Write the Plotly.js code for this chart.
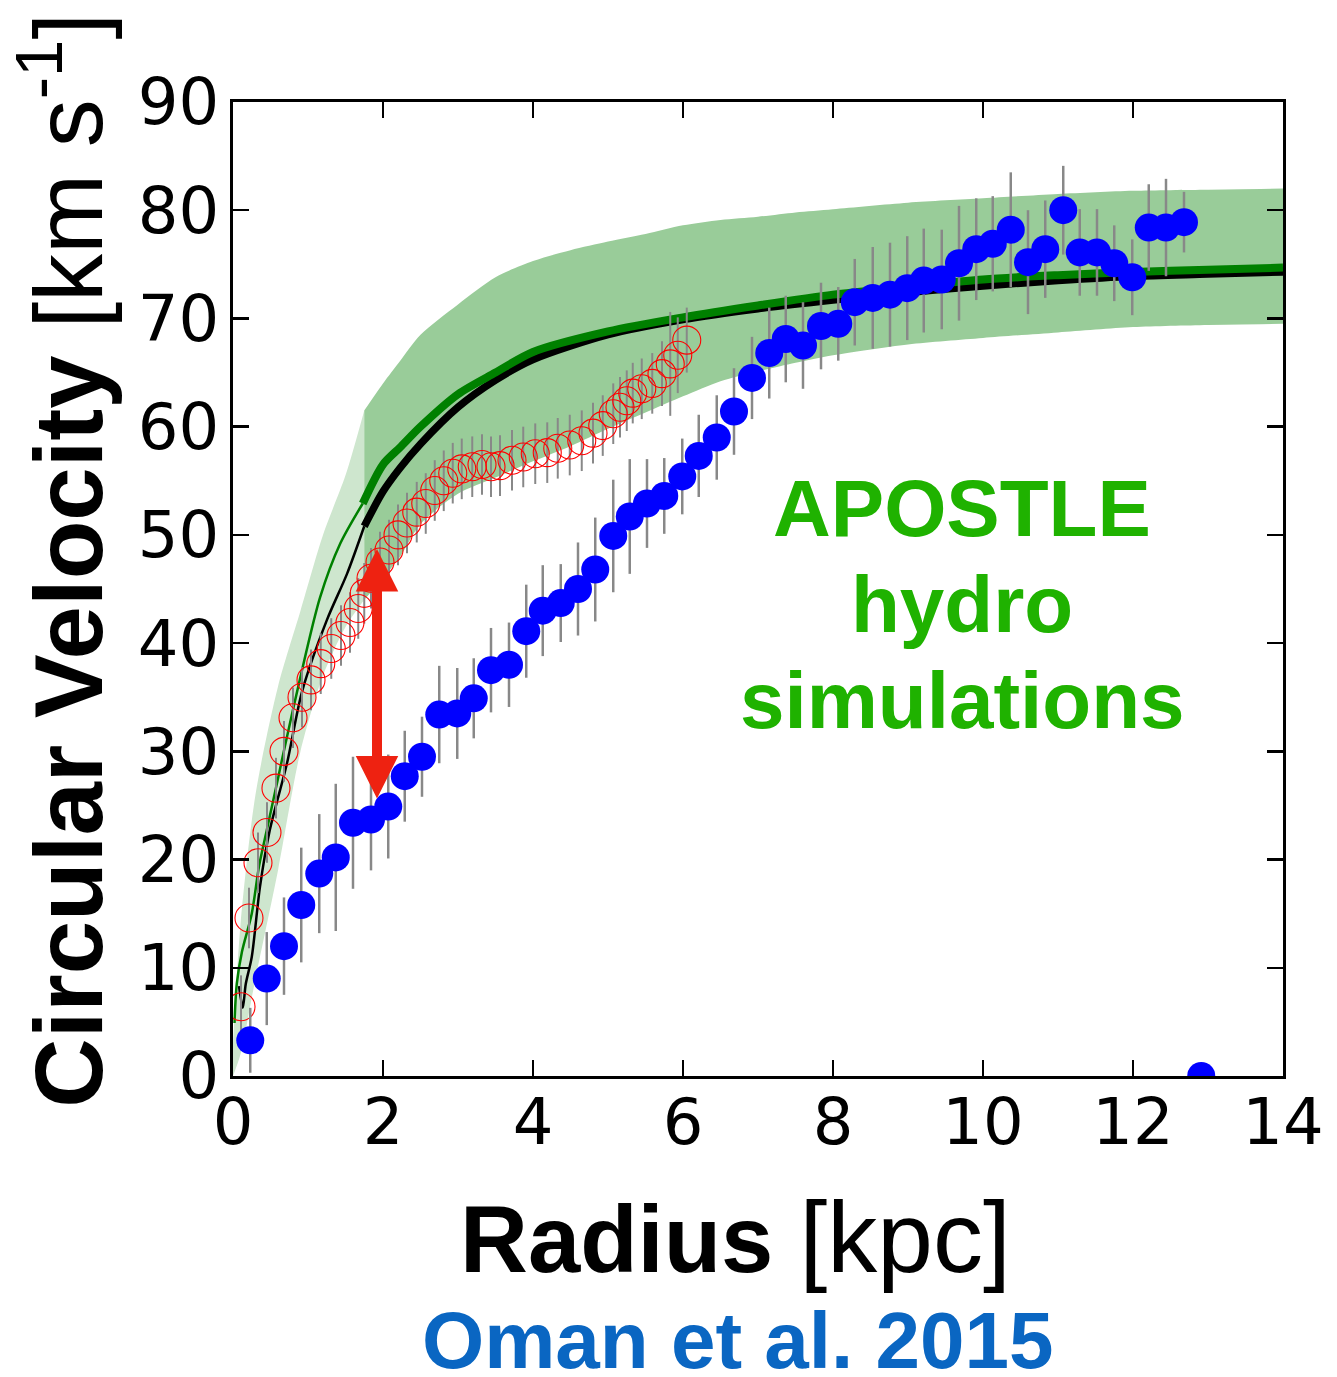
<!DOCTYPE html>
<html>
<head>
<meta charset="utf-8">
<script src="https://cdn.plot.ly/plotly-3.0.1.min.js"></script>
<style>html,body{margin:0;padding:0;background:#fff;}</style>
</head>
<body>
<div id="chart" style="width:1337px;height:1377px;"></div>
<script>
// ---------- data ----------
var blueR = [0.23,0.45,0.68,0.91,1.15,1.37,1.60,1.84,2.07,2.29,2.52,2.75,2.99,3.21,3.44,3.68,3.91,4.13,4.37,4.60,4.83,5.07,5.29,5.52,5.75,5.99,6.21,6.45,6.68,6.92,7.15,7.37,7.60,7.84,8.07,8.29,8.53,8.76,8.99,9.21,9.45,9.68,9.91,10.13,10.37,10.60,10.83,11.07,11.29,11.52,11.75,11.99,12.21,12.44,12.68,12.91];
var blueV = [3.3,9.0,12.0,15.8,18.7,20.2,23.4,23.7,24.9,27.7,29.5,33.4,33.5,34.9,37.5,38.0,41.1,43.0,43.7,45.0,46.8,49.9,51.7,52.9,53.6,55.4,57.3,59.0,61.4,64.5,66.8,68.1,67.5,69.3,69.5,71.5,71.9,72.2,72.8,73.5,73.6,75.1,76.4,76.9,78.2,75.2,76.4,80.0,76.1,76.1,75.1,73.8,78.4,78.4,78.9,0];
var blueErr = [3.0,4.3,4.5,5.3,5.5,6.8,6.1,4.7,4.8,4.2,3.7,4.5,4.2,3.7,3.9,3.9,4.3,4.2,3.6,4.3,4.8,5.2,5.3,4.1,3.5,3.5,3.8,3.9,4.0,3.8,4.2,4.0,4.0,4.0,3.4,4.0,4.7,4.8,4.8,4.8,4.6,5.3,4.7,4.4,5.3,4.8,4.5,4.1,4.0,4.0,3.5,3.5,4.0,4.5,2.8,0];

var redR = [0.107,0.213,0.333,0.453,0.573,0.68,0.80,0.92,1.04,1.17,1.31,1.44,1.56,1.67,1.75,1.84,1.96,2.08,2.20,2.32,2.45,2.57,2.69,2.81,2.93,3.05,3.19,3.32,3.44,3.56,3.72,3.87,4.03,4.19,4.33,4.49,4.65,4.80,4.93,5.07,5.16,5.25,5.33,5.45,5.59,5.72,5.83,5.93,6.05];
var redV = [6.4,14.6,19.7,22.5,26.6,30.0,33.1,35.0,36.6,38.1,39.5,40.7,41.9,43.2,44.6,46.0,47.5,48.6,50.0,51.1,52.1,52.9,54.1,55.0,55.7,56.1,56.3,56.5,56.3,56.4,56.9,57.2,57.5,57.6,58.0,58.3,58.7,59.4,60.1,61.2,61.8,62.4,63.1,63.5,64.0,64.9,65.8,66.6,68.0];
var redErr = [2.9,2.8,2.8,2.8,2.8,2.8,2.8,2.8,2.8,2.8,2.8,2.8,2.8,2.8,2.8,2.8,2.8,2.8,2.8,2.8,2.8,2.8,2.8,2.8,2.8,2.8,2.8,2.8,2.8,2.8,2.8,2.8,2.8,2.8,2.8,2.8,2.8,2.8,2.8,2.8,2.8,2.8,2.8,2.8,2.8,3.0,4.8,3.5,3.0];

// simulation band, inner (light) part
var innerBandR = [0.0,0.1,0.3,0.6,0.9,1.2,1.5,1.75];
var innerBandLow = [0.0,2.0,9.0,19.0,30.0,37.0,41.5,44.0];
var innerBandHigh = [3.0,14.0,26.0,36.0,43.0,50.0,55.5,61.5];
// simulation band, outer (dark) part
var outerBandR = [1.75,2.0,2.23,2.5,3.0,3.5,4.0,4.5,5.0,5.5,6.0,6.5,7.0,7.5,8.0,9.0,10.0,11.0,12.0,13.0,14.0];
var outerBandLow = [44.0,46.0,48.0,51.0,53.8,55.3,56.8,58.2,59.8,61.3,62.8,64.2,65.1,65.9,66.6,67.6,68.2,68.7,69.2,69.4,69.5];
var outerBandHigh = [61.5,64.0,66.1,68.5,71.3,73.8,75.3,76.3,77.1,77.8,78.6,79.1,79.4,79.8,80.1,80.7,81.1,81.5,81.8,81.9,82.0];

// median curves
var greenInnerR = [0.02,0.05,0.12,0.25,0.35,0.45,0.6,0.69,0.89,1.16,1.43,1.73];
var greenInnerV = [4.9,8.5,11.5,15.0,19.5,22.7,27.5,30.4,36.6,44.2,49.2,52.9];
var greenOuterR = [1.73,2.0,2.23,2.5,3.0,3.5,4.0,5.0,6.0,7.0,8.0,9.0,10.0,11.0,12.0,13.0,14.0];
var greenOuterV = [52.9,56.5,58.1,60.0,63.0,65.0,66.9,68.8,70.1,71.2,72.2,72.9,73.6,74.0,74.3,74.5,74.7];
var blackInnerR = [0.08,0.13,0.17,0.25,0.36,0.49,0.72,0.92,1.25,1.52,1.75];
var blackInnerV = [8.3,6.3,8.5,11.0,17.5,22.7,28.9,35.5,42.1,46.4,50.8];
var blackOuterR = [1.75,2.0,2.23,2.5,3.0,3.5,4.0,5.0,6.0,7.0,8.0,9.0,10.0,11.0,12.0,13.0,14.0];
var blackOuterV = [50.8,54.0,56.2,58.4,61.8,64.3,66.2,68.5,69.9,70.9,71.7,72.4,73.0,73.5,73.9,74.1,74.3];

// arrow (data coordinates)
var arrowR = [1.92];
var arrowTop = [48.7];
var arrowBottom = [25.5];

// ticks
var xTicks = [0,2,4,6,8,10,12,14];
var yTicks = [0,10,20,30,40,50,60,70,80,90];

// ---------- traces ----------
var lightBand = 'rgb(206,230,206)';
var darkBand = 'rgb(153,204,153)';
function ln(extra) { var o = {shape: 'spline', smoothing: 0.8}; for (var k in extra) o[k] = extra[k]; return o; }
var traces = [
  {x: innerBandR, y: innerBandLow, mode: 'lines', line: ln({width: 0}), hoverinfo: 'skip', showlegend: false},
  {x: innerBandR, y: innerBandHigh, mode: 'lines', line: ln({width: 0}), fill: 'tonexty', fillcolor: lightBand, hoverinfo: 'skip', showlegend: false},
  {x: outerBandR, y: outerBandLow, mode: 'lines', line: ln({width: 0}), hoverinfo: 'skip', showlegend: false},
  {x: outerBandR, y: outerBandHigh, mode: 'lines', line: ln({width: 0}), fill: 'tonexty', fillcolor: darkBand, hoverinfo: 'skip', showlegend: false},
  {x: blackInnerR, y: blackInnerV, mode: 'lines', line: ln({color: '#000000', width: 2.5}), showlegend: false},
  {x: greenInnerR, y: greenInnerV, mode: 'lines', line: ln({color: '#008000', width: 2.5}), showlegend: false},
  {x: blackOuterR, y: blackOuterV, mode: 'lines', line: ln({color: '#000000', width: 7.5}), showlegend: false},
  {x: greenOuterR, y: greenOuterV, mode: 'lines', line: ln({color: '#008000', width: 8}), showlegend: false},
  {x: redR, y: redV, mode: 'markers', showlegend: false,
   marker: {symbol: 'circle-open', size: 28, color: '#ff0000', line: {color: '#ff0000', width: 1.1}},
   error_y: {type: 'data', array: redErr, visible: true, color: '#888888', thickness: 2, width: 0}},
  {x: blueR, y: blueV, mode: 'markers', showlegend: false,
   marker: {symbol: 'circle', size: 28, color: '#0000ff', line: {width: 0}},
   error_y: {type: 'data', array: blueErr, visible: true, color: '#888888', thickness: 2.5, width: 0}}
];

var txtFont = 'Liberation Sans, Arial, Helvetica, sans-serif';
var greenTxt = 'rgb(31,178,0)';
var layout = {
  width: 1337, height: 1377,
  margin: {l: 233, r: 54, t: 102, b: 301},
  paper_bgcolor: '#ffffff', plot_bgcolor: '#ffffff',
  showlegend: false,
  xaxis: {
    range: [0, 14], tickvals: xTicks, ticktext: xTicks.map(String),
    ticks: 'inside', ticklen: 16, tickwidth: 2.5, tickcolor: '#000',
    showline: true, linewidth: 3, linecolor: '#000', mirror: 'allticks',
    showgrid: false, zeroline: false, ticklabelstandoff: -12,
    tickfont: {family: 'DejaVu Sans', size: 64, color: '#000'}
  },
  yaxis: {
    range: [0, 90], tickvals: yTicks, ticktext: yTicks.map(String),
    ticks: 'inside', ticklen: 16, tickwidth: 2.5, tickcolor: '#000',
    showline: true, linewidth: 3, linecolor: '#000', mirror: 'allticks',
    showgrid: false, zeroline: false, ticklabelstandoff: -2,
    tickfont: {family: 'DejaVu Sans', size: 64, color: '#000'}
  },
  annotations: [
    {x: arrowR[0], y: arrowTop[0], ax: arrowR[0], ay: arrowBottom[0], xref: 'x', yref: 'y', axref: 'x', ayref: 'y',
     text: '', showarrow: true, arrowside: 'end+start', arrowhead: 2, startarrowhead: 2,
     arrowwidth: 10, arrowsize: 0.85, startarrowsize: 0.85, arrowcolor: 'rgb(238,34,17)'},
    {x: 9.72, y: 52.4, xref: 'x', yref: 'y', text: '<b>APOSTLE</b>', showarrow: false, xanchor: 'center', yanchor: 'middle',
     font: {family: txtFont, size: 80, color: greenTxt}},
    {x: 9.72, y: 43.6, xref: 'x', yref: 'y', text: '<b>hydro</b>', showarrow: false, xanchor: 'center', yanchor: 'middle',
     font: {family: txtFont, size: 80, color: greenTxt}},
    {x: 9.72, y: 34.7, xref: 'x', yref: 'y', text: '<b>simulations</b>', showarrow: false, xanchor: 'center', yanchor: 'middle',
     font: {family: txtFont, size: 80, color: greenTxt}},
    // x-axis title
    {x: 0.479, y: -0.1655, xref: 'paper', yref: 'paper', text: '<b>Radius</b> <span style="font-size:100px">[kpc]</span>',
     showarrow: false, xanchor: 'center', yanchor: 'middle', font: {family: txtFont, size: 94, color: '#000'}},
    // y-axis title
    {x: -0.163, y: 0.53, xref: 'paper', yref: 'paper', text: '<b>Circular Velocity</b> [km s<sup>-1</sup>]', textangle: -90,
     showarrow: false, xanchor: 'center', yanchor: 'middle', font: {family: txtFont, size: 96, color: '#000'}},
    {x: 0.48, y: -0.272, xref: 'paper', yref: 'paper', text: '<b>Oman et al. 2015</b>', showarrow: false, xanchor: 'center', yanchor: 'middle',
     font: {family: txtFont, size: 80, color: 'rgb(10,102,194)'}}
  ]
};

Plotly.newPlot('chart', traces, layout, {displayModeBar: false, staticPlot: true});
</script>
</body>
</html>
